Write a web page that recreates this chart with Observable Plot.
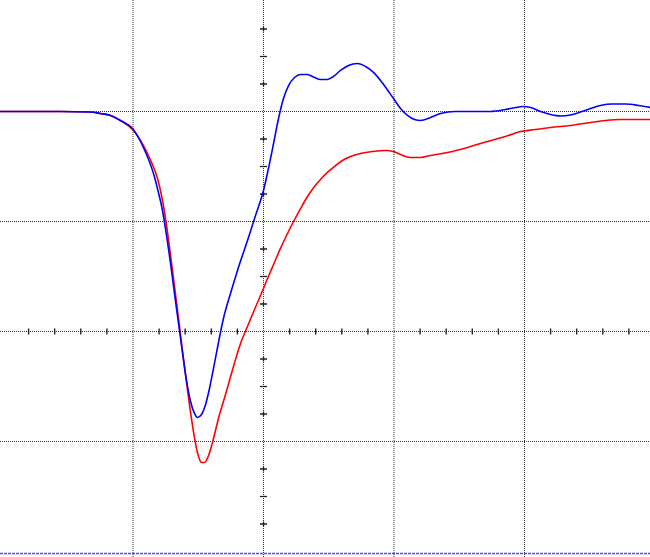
<!DOCTYPE html>
<html>
<head>
<meta charset="utf-8">
<script src="https://cdn.jsdelivr.net/npm/d3@7"></script>
<script src="https://cdn.jsdelivr.net/npm/@observablehq/plot@0.6"></script>
<style>
  html, body { margin: 0; padding: 0; background: #fff; }
  svg { display: block; }
</style>
</head>
<body>
<div id="chart"></div>
<script>
// Oscilloscope-style trace, units = screen divisions
const blueX = [-2.015,-1.556,-1.326,-1.249,-1.172,-1.096,-1.004,-0.920,-0.843,-0.805,-0.774,-0.743,-0.713,-0.682,-0.651,-0.621,-0.590,-0.559,-0.529,-0.506,-0.475,-0.444,-0.414,-0.383,-0.345,-0.307,-0.253,-0.192,-0.115,-0.061,0,0.038,0.077,0.115,0.153,0.192,0.238,0.284,0.337,0.391,0.437,0.490,0.536,0.590,0.651,0.720,0.782,0.843,0.920,0.996,1.050,1.103,1.157,1.203,1.280,1.356,1.471,1.625,1.739,1.854,1.931,1.985,2.046,2.123,2.199,2.276,2.352,2.429,2.506,2.582,2.674,2.774,2.874,2.966];
const blueY = [2.000,2.000,1.995,1.982,1.964,1.918,1.845,1.673,1.436,1.264,1.100,0.873,0.627,0.345,0.073,-0.191,-0.445,-0.636,-0.745,-0.782,-0.755,-0.664,-0.518,-0.336,-0.100,0.118,0.345,0.582,0.855,1.055,1.282,1.482,1.709,1.936,2.118,2.236,2.309,2.336,2.336,2.309,2.291,2.291,2.318,2.373,2.418,2.436,2.409,2.355,2.245,2.118,2.027,1.964,1.927,1.918,1.945,1.982,2.000,2.000,2.000,2.018,2.036,2.045,2.036,2.000,1.973,1.959,1.968,1.995,2.027,2.055,2.068,2.068,2.055,2.036];

const redX = [-2.015,-1.556,-1.326,-1.249,-1.172,-1.096,-0.996,-0.889,-0.851,-0.812,-0.774,-0.743,-0.713,-0.682,-0.651,-0.621,-0.590,-0.559,-0.529,-0.506,-0.475,-0.452,-0.421,-0.391,-0.345,-0.291,-0.230,-0.176,-0.123,-0.069,-0.023,0.031,0.077,0.130,0.184,0.230,0.284,0.337,0.391,0.444,0.498,0.552,0.605,0.667,0.743,0.835,0.935,0.996,1.050,1.126,1.203,1.280,1.410,1.563,1.716,1.854,1.969,2.084,2.199,2.352,2.506,2.621,2.736,2.966];
const redY = [2.000,2.000,1.995,1.982,1.964,1.918,1.827,1.618,1.518,1.391,1.191,0.964,0.700,0.409,0.118,-0.173,-0.464,-0.736,-0.964,-1.100,-1.191,-1.191,-1.127,-1.009,-0.791,-0.573,-0.318,-0.109,0.045,0.200,0.327,0.482,0.609,0.755,0.891,1.000,1.118,1.227,1.318,1.391,1.455,1.509,1.555,1.591,1.618,1.636,1.645,1.636,1.609,1.582,1.582,1.600,1.627,1.673,1.727,1.773,1.818,1.836,1.855,1.873,1.900,1.918,1.927,1.927];

// Graticule
const gridX = [-1, 0, 1, 2];
const gridY = [-1, 0, 1, 2];
const axisTicksX = [-1.8,-1.6,-1.4,-1.2,-0.8,-0.6,-0.4,-0.2,0.2,0.4,0.6,0.8,1.2,1.4,1.6,1.8,2.2,2.4,2.6,2.8];
const axisTicksYQuarter = [-1.75,-1.25,-0.75,-0.25,0.25,0.75,1.25,1.75,2.25,2.75];
const axisTicksYHalf = [-1.5,-0.5,0.5,1.5,2.5];

const blue = blueX.map((x, i) => ({x, y: blueY[i]}));
const red = redX.map((x, i) => ({x, y: redY[i]}));

const hTick = {draw(ctx) { ctx.moveTo(-3.5, 0); ctx.lineTo(3.5, 0); }};
const crossTick = {draw(ctx) { ctx.moveTo(-3.5, 0); ctx.lineTo(3.5, 0); ctx.moveTo(0, -2.5); ctx.lineTo(0, 2.5); }};
const vTick = {draw(ctx) { ctx.moveTo(0, -3); ctx.lineTo(0, 3); }};

const chart = Plot.plot({
  width: 650,
  height: 557,
  margin: 0,
  style: {background: "#fff", overflow: "visible"},
  x: {domain: [-2, 3], range: [2, 654.5], axis: null},
  y: {domain: [-2, 3], range: [551, 1], axis: null},
  marks: [
    Plot.ruleX(gridX, {x: d => d, stroke: "#333", strokeDasharray: "1,1"}),
    Plot.ruleY(gridY, {y: d => d, stroke: "#333", strokeDasharray: "1,1"}),
    Plot.dot(axisTicksX, {x: d => d, y: () => 0, symbol: vTick, stroke: "#222", strokeWidth: 1.4, fill: "none", r: 3}),
    Plot.dot(axisTicksYQuarter, {x: () => 0, y: d => d, symbol: crossTick, stroke: "#222", strokeWidth: 1.3, fill: "none", r: 3}),
    Plot.dot(axisTicksYHalf, {x: () => 0, y: d => d, symbol: hTick, stroke: "#222", strokeWidth: 1.3, fill: "none", r: 3}),
    Plot.ruleY([-2], {y: d => d, dy: 2, stroke: "#4a4aff", strokeWidth: 1.5, strokeDasharray: "3,1"}),
    Plot.line(red, {x: "x", y: "y", stroke: "#ff0000", strokeWidth: 1.6, curve: "monotone-x"}),
    Plot.line(blue, {x: "x", y: "y", stroke: "#0000ff", strokeWidth: 1.6, curve: "monotone-x"})
  ]
});
document.getElementById("chart").appendChild(chart);
</script>
</body>
</html>
